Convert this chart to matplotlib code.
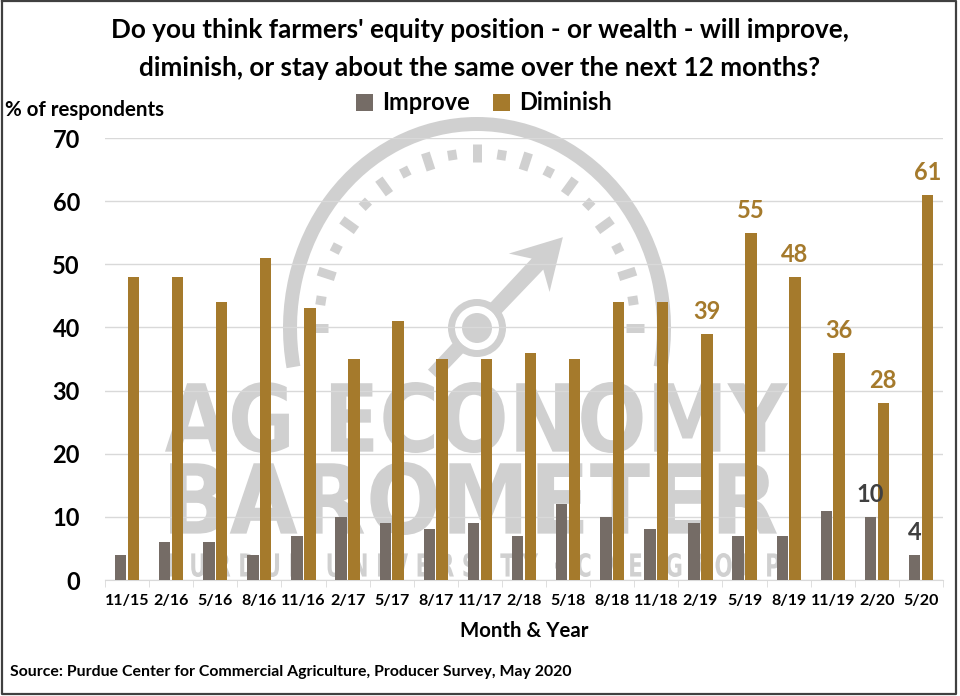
import numpy as np
import matplotlib
matplotlib.use("Agg")
import matplotlib.pyplot as plt
from matplotlib.patches import Arc, Circle, Polygon, PathPatch
from matplotlib.textpath import TextPath
from matplotlib.font_manager import FontProperties
from matplotlib.transforms import Affine2D

plt.rcParams['font.family'] = ['Lato', 'DejaVu Sans']
plt.rcParams['font.weight'] = 'bold'

# data
months = ["11/15", "2/16", "5/16", "8/16", "11/16", "2/17", "5/17", "8/17",
          "11/17", "2/18", "5/18", "8/18", "11/18", "2/19", "5/19", "8/19",
          "11/19", "2/20", "5/20"]
improve = [4, 6, 6, 4, 7, 10, 9, 8, 9, 7, 12, 10, 8, 9, 7, 7, 11, 10, 4]
diminish = [48, 48, 44, 51, 43, 35, 41, 35, 35, 36, 35, 44, 44, 39, 55, 48,
            36, 28, 61]
# which bars carry a value label
improve_labeled = ["2/20", "5/20"]
diminish_labeled = ["2/19", "5/19", "8/19", "11/19", "2/20", "5/20"]

GRAY = "#756C66"
GOLD = "#A57A2C"
WM = "#D0D0D0"
W, H = 960, 696


def px(y):
    # screen y (top-down) -> background axes y
    return H - y


def fit_text(bg, s, x0, y0, x1, y1):
    tp = TextPath((0, 0), s, size=100,
                  prop=FontProperties(family="DejaVu Sans", weight="bold"))
    ext = tp.get_extents()
    tr = (Affine2D().translate(-ext.x0, -ext.y0)
          .scale((x1 - x0) / ext.width, (y1 - y0) / ext.height)
          .translate(x0, px(y1)))
    bg.add_patch(PathPatch(tr.transform_path(tp), fc=WM, ec="none"))


def watermark(bg):
    cx, cy = 477, px(328)
    pt = 72 / 100.0
    bg.add_patch(Arc((cx, cy), 2 * 187, 2 * 204, theta1=-12, theta2=192,
                     lw=14 * pt, color=WM))
    # dial dashes
    for i, a in enumerate(range(0, 181, 9)):
        t = np.radians(a)
        r = 18 if i % 2 == 0 else 10
        x, y = cx + 158 * np.cos(t), cy + 175 * np.sin(t)
        dx, dy = np.cos(t) * r / 2, np.sin(t) * r / 2
        bg.plot([x - dx, x + dx], [y - dy, y + dy], color=WM, lw=9 * pt,
                solid_capstyle="butt")
    # needle
    ang = np.radians(46.6)
    u = np.array([np.cos(ang), np.sin(ang)])
    n = np.array([-np.sin(ang), np.cos(ang)])
    pts = [(-64, 7), (88, 8), (76, 28), (125, 0), (76, -28), (88, -8),
           (-64, -7)]
    poly = [(cx + d * u[0] + o * n[0], cy + d * u[1] + o * n[1])
            for d, o in pts]
    bg.add_patch(Polygon(poly, closed=True, fc=WM, ec="none"))
    bg.add_patch(Circle((cx, cy), 22, fc="white", ec="none"))
    bg.add_patch(Circle((cx, cy), 25.5, fc="none", ec=WM, lw=7 * pt))
    bg.add_patch(Circle((cx, cy), 15, fc=WM, ec="none"))
    fit_text(bg, "AG ECONOMY", 165, 382, 788, 453)
    fit_text(bg, "BAROMETER", 170, 462, 777, 535)
    fit_text(bg, "P U R D U E   U N I V E R S I T Y  \u00b7  C M E   G R O U P",
             168, 553, 780, 577)


fig = plt.figure(figsize=(W / 100, H / 100), dpi=100)

bg = fig.add_axes([0, 0, 1, 1], zorder=0)
bg.set_xlim(0, W)
bg.set_ylim(0, H)
bg.axis("off")
watermark(bg)

# frame around the picture
bg.plot([1.5, 955.5, 955.5, 1.5, 1.5], [px(0.5), px(0.5), px(693.5),
        px(693.5), px(0.5)], color="#404040", lw=1.6)

ax = fig.add_axes([105 / W, (H - 580) / H, 838 / W, 442 / H], zorder=1)
ax.patch.set_alpha(0)

x = np.arange(len(months))
bw = 0.26
b1 = ax.bar(x - 0.145, improve, bw, color=GRAY, label="Improve", zorder=3)
b2 = ax.bar(x + 0.145, diminish, bw, color=GOLD, label="Diminish", zorder=3)

ax.bar_label(b1, labels=[str(v) if m in improve_labeled else ""
                         for m, v in zip(months, improve)],
             padding=8, fontsize=17, color="#404040", fontweight="bold")
ax.bar_label(b2, labels=[str(v) if m in diminish_labeled else ""
                         for m, v in zip(months, diminish)],
             padding=8, fontsize=17, color=GOLD, fontweight="bold")

ax.set_xlim(-0.5, len(months) - 0.5)
ax.set_ylim(0, 70)
ax.set_yticks(range(0, 71, 10))
ax.tick_params(axis="y", length=0, pad=18, labelsize=17)
ax.set_xticks(x)
ax.set_xticklabels(months)
ax.set_xticks(np.arange(-0.5, len(months), 1), minor=True)
ax.tick_params(axis="x", which="major", length=0, pad=10, labelsize=11.5)
ax.tick_params(axis="x", which="minor", length=5, color="#D9D9D9")
ax.grid(axis="y", color="#D9D9D9", lw=1, zorder=1)
ax.set_axisbelow(True)
for s in ["top", "right", "left"]:
    ax.spines[s].set_visible(False)
ax.spines["bottom"].set_color("#D9D9D9")

ax.legend(loc="center", bbox_to_anchor=(484 / W, px(103) / H),
          bbox_transform=fig.transFigure, ncol=2, frameon=False,
          fontsize=17, handlelength=0.7, handleheight=0.7,
          handletextpad=0.4, columnspacing=1.0)

fig.text(480 / W, px(30) / H,
         "Do you think farmers' equity position - or wealth - will improve,",
         ha="center", va="center", fontsize=18.8, fontweight="bold")
fig.text(480 / W, px(68) / H,
         "diminish, or stay about the same over the next 12 months?",
         ha="center", va="center", fontsize=18.8, fontweight="bold")
fig.text(5 / W, px(110) / H, "% of respondents", ha="left", va="center",
         fontsize=14.8, fontweight="bold")
fig.text(524 / W, px(631) / H, "Month & Year", ha="center", va="center",
         fontsize=14.7, fontweight="bold")
fig.text(10 / W, px(672) / H,
         "Source: Purdue Center for Commercial Agriculture, Producer Survey, May 2020",
         ha="left", va="center", fontsize=11.4, fontweight="bold")

fig.savefig("out.png", dpi=100)
